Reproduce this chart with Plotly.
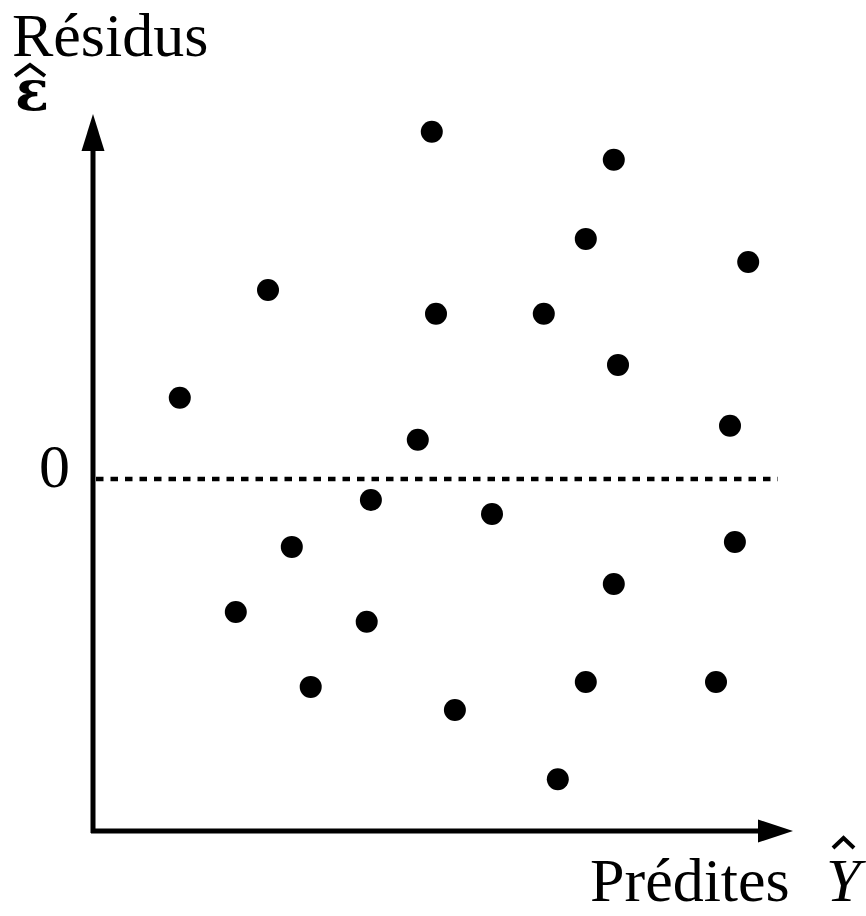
import plotly.graph_objects as go

# Fitted values (Ŷ) and residuals (ε̂) of the scatter
predites = [4.84, 7.44, 7.04, 9.36, 2.50, 4.90, 6.44, 7.50, 1.24, 9.10, 4.64, 3.97,
            5.70, 2.84, 9.17, 7.44, 2.04, 3.91, 3.11, 7.04, 8.90, 5.17, 6.64]
residus = [4.96, 4.56, 3.43, 3.10, 2.70, 2.36, 2.36, 1.63, 1.16, 0.76, 0.56, -0.30,
           -0.50, -0.97, -0.90, -1.50, -1.90, -2.04, -2.97, -2.90, -2.90, -3.30, -4.29]

W, H = 866, 916
SCALE = 70.0            # px per unit
X0_PX, Y0_PX = 93, 479  # pixel position of the origin (x=0, residual=0)


def px2x(p):
    return (p - X0_PX) / SCALE


def px2y(p):
    return (Y0_PX - p) / SCALE


x_range = [px2x(0), px2x(W)]
y_range = [px2y(H), px2y(0)]

AXIS_Y_PX = 831
FONT = "Liberation Serif, Times New Roman, serif"

fig = go.Figure()
fig.add_trace(go.Scatter(
    x=predites, y=residus, mode="markers",
    marker=dict(size=22, color="black", line=dict(width=0)),
    hoverinfo="skip", showlegend=False,
))

shapes = [
    # zero line
    dict(type="line", x0=px2x(96), x1=px2x(778), y0=0, y1=0, xref="x", yref="y",
         line=dict(color="black", width=4.5, dash="7.5px,7px")),
    # vertical axis
    dict(type="line", x0=0, x1=0, y0=px2y(AXIS_Y_PX + 2), y1=px2y(140), xref="x", yref="y",
         line=dict(color="black", width=5)),
    # horizontal axis
    dict(type="line", x0=px2x(91), x1=px2x(770), y0=px2y(AXIS_Y_PX), y1=px2y(AXIS_Y_PX),
         xref="x", yref="y", line=dict(color="black", width=5)),
]

# arrowheads
up = "M {} {} L {} {} L {} {} Z".format(px2x(81.5), px2y(151), px2x(93), px2y(114), px2x(104.5), px2y(151))
right = "M {} {} L {} {} L {} {} Z".format(px2x(758), px2y(AXIS_Y_PX - 11.5), px2x(793), px2y(AXIS_Y_PX),
                                           px2x(758), px2y(AXIS_Y_PX + 11.5))
shapes.append(dict(type="path", path=up, xref="x", yref="y", fillcolor="black", line=dict(width=0)))
shapes.append(dict(type="path", path=right, xref="x", yref="y", fillcolor="black", line=dict(width=0)))

# circumflex hats over ε and Y
hat_eps = "M {} {} L {} {} L {} {}".format(px2x(15), px2y(76), px2x(30), px2y(65), px2x(45), px2y(76))
hat_y = "M {} {} L {} {} L {} {}".format(px2x(833), px2y(848), px2x(843.5), px2y(838), px2x(854), px2y(848))
shapes.append(dict(type="path", path=hat_eps, xref="x", yref="y", line=dict(color="black", width=4)))
shapes.append(dict(type="path", path=hat_y, xref="x", yref="y", line=dict(color="black", width=4)))

annotations = [
    dict(x=px2x(10), y=px2y(35), text="Résidus", showarrow=False, xanchor="left",
         yanchor="middle", font=dict(family=FONT, size=62, color="black")),
    dict(x=px2x(13), y=px2y(90), text="<b>ɛ</b>", showarrow=False, xanchor="left",
         yanchor="middle", font=dict(family="DejaVu Serif, serif", size=56, color="black")),
    dict(x=px2x(72), y=px2y(466), text="0", showarrow=False, xanchor="right",
         yanchor="middle", font=dict(family=FONT, size=62, color="black")),
    dict(x=px2x(792), y=px2y(880), text="Prédites", showarrow=False, xanchor="right",
         yanchor="middle", font=dict(family=FONT, size=62, color="black")),
    dict(x=px2x(824), y=px2y(880), text="<i>Y</i>", showarrow=False, xanchor="left",
         yanchor="middle", font=dict(family=FONT, size=62, color="black")),
]

fig.update_layout(
    width=W, height=H,
    margin=dict(l=0, r=0, t=0, b=0),
    paper_bgcolor="white", plot_bgcolor="white",
    xaxis=dict(range=x_range, visible=False, fixedrange=True),
    yaxis=dict(range=y_range, visible=False, fixedrange=True),
    shapes=shapes, annotations=annotations,
)

fig.write_html("out.html")
